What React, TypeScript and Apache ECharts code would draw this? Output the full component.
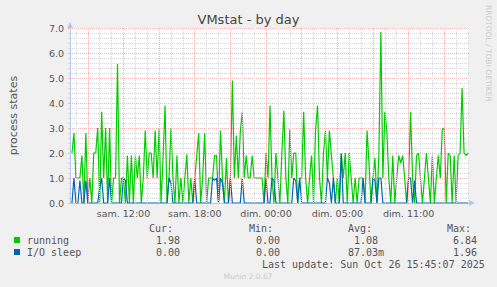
import React, { useEffect, useRef } from "react";
import * as echarts from "echarts";

// ---- data ----
// 10-minute points, starting at Sat 07:40 (hours since Sat 00:00, CEST)
const START_HOUR = 7 + 40 / 60;
const STEP_HOURS = 1 / 6;

const RUNNING = [
  2.0, 2.8, 1.0, 1.0, 1.0, 1.9, 0, 2.8, 0, 1.0,
  0, 2.0, 2.0, 3.0, 0, 3.65, 1.0, 3.0, 0, 3.0,
  0, 1.0, 1.0, 5.56, 0, 1.0, 1.0, 0, 1.9, 0,
  1.9, 0, 1.9, 1.0, 1.9, 0, 1.0, 2.9, 1.0, 2.0,
  2.0, 1.0, 2.9, 1.0, 2.95, 0, 1.8, 3.9, 0, 1.0,
  3.0, 1.0, 0, 1.9, 0, 1.0, 0, 1.0, 1.95, 0,
  1.0, 0, 1.0, 1.9, 2.8, 0, 1.0, 2.8, 0, 1.0,
  1.0, 1.0, 1.9, 1.9, 0, 2.9, 1.0, 0, 1.8, 0,
  1.0, 4.9, 1.0, 2.7, 1.0, 2.85, 3.65, 1.0, 1.9, 1.0,
  1.0, 1.9, 1.0, 1.0, 1.0, 1.0, 1.0, 0, 2.0, 1.0,
  3.9, 1.0, 0, 2.0, 1.0, 0, 2.0, 3.7, 1.0, 0,
  2.95, 1.0, 2.0, 2.0, 0, 1.0, 1.0, 3.65, 1.0, 0,
  1.0, 1.9, 0, 2.9, 3.9, 1.0, 0, 2.0, 2.9, 1.0,
  2.9, 1.9, 1.0, 0, 1.0, 0, 2.0, 1.0, 2.0, 0,
  2.0, 1.0, 0, 1.0, 0, 1.0, 1.0, 1.0, 0, 2.9,
  1.6, 0, 1.0, 1.8, 0, 2.0, 6.84, 1.0, 3.65, 2.9,
  1.0, 0, 1.9, 0, 1.0, 1.9, 1.6, 1.9, 1.0, 0,
  1.0, 3.65, 1.0, 0, 1.9, 2.0, 1.0, 0, 1.0, 2.0,
  1.0, 0, 1.9, 0, 1.0, 1.9, 1.0, 2.95, 3.0, 0,
  2.0, 1.9, 0, 1.9, 0, 1.9, 2.0, 4.6, 2.0, 1.9,
  1.98,
];

const IO_SLEEP = [
  0, 1.0, 0, 0, 0.9, 0, 0, 0.9, 0, 0,
  0, 0, 0, 0, 0.6, 1.0, 0, 0, 0, 1.0,
  0, 0, 0, 0, 0, 0, 1.0, 0.9, 0, 0,
  0, 0, 0, 0, 0, 0, 0, 0, 0, 0,
  0, 0, 0, 0, 0, 0, 0, 0, 0, 1.0,
  0.8, 0, 0, 0, 0, 0, 0, 0, 0, 0,
  0, 0, 1.0, 0, 0, 0, 0, 0, 0, 0,
  0, 1.0, 0.9, 1.0, 0, 1.0, 0.8, 0, 0, 0,
  1.0, 0, 0, 0, 0, 0, 1.0, 0, 0, 0,
  0, 0, 0, 0, 0, 0, 0, 0, 1.0, 0,
  0, 1.0, 0.9, 0, 0, 0, 0, 0, 0, 0,
  0, 0, 1.0, 0.9, 0, 1.0, 0, 0, 0, 0,
  0, 0, 0, 0, 0, 0, 0, 0, 0, 1.0,
  0.8, 0, 1.0, 0, 0, 0, 1.96, 0, 0, 0,
  0, 0, 0, 0, 0, 0, 0, 1.0, 0, 0,
  0, 0, 1.0, 0.9, 0, 1.0, 1.0, 0, 0, 0,
  0, 0, 0, 0, 0, 0, 0, 0, 0, 0,
  1.0, 1.0, 0, 0.9, 0, 0, 0, 0, 0, 0,
  0, 0, 0, 0, 0, 0, 0, 0, 0, 0,
  0, 0, 0, 0, 0, 0, 0, 0, 0, 0,
  0,
];

const TICK_HOURS = [12, 18, 24, 30, 36];
const TICK_LABELS = ["sam. 12:00", "sam. 18:00", "dim. 00:00", "dim. 05:00", "dim. 11:00"];
const X_MIN = 7.5;
const X_MAX = 41.0833;

const LEGEND_NAMES = ["running", "I/O sleep"];
const LEGEND_COLORS = ["#00CC00", "#0066B3"];
const CUR = ["1.98", "0.00"];
const MIN = ["0.00", "0.00"];
const AVG = ["1.08", "87.03m"];
const MAX = ["6.84", "1.96"];
const LAST_UPDATE = "Last update: Sun Oct 26 15:45:07 2025";

const MONO = "'DejaVu Sans Mono', monospace";
const SANS = "'DejaVu Sans', sans-serif";
const MAJOR_GRID = "#f0b4b4";
const MINOR_GRID = "#d6d6d6";

export default function App() {
  const ref = useRef<HTMLDivElement>(null);

  useEffect(() => {
    if (!ref.current) return;
    const chart = echarts.init(ref.current, null, { renderer: "svg" });

    const toPairs = (vals: number[]) => vals.map((v, i) => [START_HOUR + i * STEP_HOURS, v]);

    const gridLines: any[] = [];
    for (let h = Math.ceil(X_MIN); h <= Math.floor(X_MAX); h++) {
      const major = h % 3 === 0;
      gridLines.push({
        xAxis: h,
        lineStyle: {
          color: major ? MAJOR_GRID : MINOR_GRID,
          type: [1, 1],
          width: 1,
        },
      });
    }

    const textEl = (x: number, y: number, text: string, extra: any = {}) => ({
      type: "text",
      x,
      y,
      silent: true,
      style: {
        text,
        fill: "#555",
        fontSize: 10,
        fontFamily: MONO,
        align: "left",
        verticalAlign: "middle",
        ...extra,
      },
    });

    const graphics: any[] = [
      {
        type: "text",
        x: 488,
        y: 5,
        rotation: -Math.PI / 2,
        silent: true,
        style: {
          text: "RRDTOOL / TOBI OETIKER",
          fill: "#cccccc",
          fontSize: 7.5,
          fontFamily: SANS,
          align: "left",
          verticalAlign: "middle",
        },
      },
      textEl(149, 228, "Cur:"),
      textEl(249, 228, "Min:"),
      textEl(348, 228, "Avg:"),
      textEl(447, 228, "Max:"),
      textEl(262, 264, LAST_UPDATE),
      textEl(248, 276, "Munin 2.0.67", {
        fill: "#cccccc",
        fontSize: 7.5,
        fontFamily: SANS,
        align: "center",
      }),
    ];
    LEGEND_NAMES.forEach((name, k) => {
      const y = 240 + k * 12;
      graphics.push({
        type: "rect",
        silent: true,
        shape: { x: 14, y: y - 3, width: 6, height: 6 },
        style: { fill: LEGEND_COLORS[k] },
      });
      graphics.push(textEl(27, y, name));
      graphics.push(textEl(156, y, CUR[k]));
      graphics.push(textEl(256, y, MIN[k]));
      graphics.push(textEl(AVG[k].length > 4 ? 348 : 354, y, AVG[k]));
      graphics.push(textEl(453, y, MAX[k]));
    });

    chart.setOption({
      animation: false,
      backgroundColor: "#f0f0f0",
      title: {
        text: "VMstat - by day",
        left: "center",
        top: 13,
        padding: 0,
        textStyle: { color: "#444", fontSize: 13, fontWeight: "normal", fontFamily: SANS },
      },
      grid: {
        left: 66,
        right: 28,
        top: 28,
        bottom: 84,
        show: true,
        backgroundColor: "#ffffff",
        borderWidth: 0,
      },
      xAxis: {
        type: "value",
        min: X_MIN,
        max: X_MAX,
        axisLine: {
          show: true,
          lineStyle: { color: "#b9c3f0", width: 1 },
          symbol: ["none", "triangle"],
          symbolSize: [6, 6],
          symbolOffset: [0, 3],
        },
        axisTick: { show: false },
        splitLine: { show: false },
        axisLabel: {
          customValues: TICK_HOURS,
          formatter: (v: number) => {
            const k = TICK_HOURS.findIndex((h) => Math.abs(h - v) < 1e-6);
            return k >= 0 ? TICK_LABELS[k] : "";
          },
          color: "#555",
          fontSize: 9.5,
          fontFamily: SANS,
          margin: 5,
        },
      },
      yAxis: {
        type: "value",
        min: 0,
        max: 7,
        interval: 1,
        name: "process states",
        nameLocation: "middle",
        nameRotate: 90,
        nameGap: 51,
        nameTextStyle: { color: "#555", fontSize: 11, fontFamily: SANS },
        axisLine: {
          show: true,
          lineStyle: { color: "#b9c3f0", width: 1 },
          symbol: ["none", "triangle"],
          symbolSize: [6, 6],
          symbolOffset: [0, 3],
        },
        axisTick: { show: true, length: 2, lineStyle: { color: MAJOR_GRID } },
        minorTick: { show: true, splitNumber: 5, length: 2, lineStyle: { color: MINOR_GRID } },
        splitLine: { show: true, lineStyle: { color: MAJOR_GRID, type: [1, 1], width: 1 } },
        minorSplitLine: { show: true, lineStyle: { color: MINOR_GRID, type: [1, 1], width: 1 } },
        axisLabel: {
          formatter: (v: number) => v.toFixed(1),
          color: "#555",
          fontSize: 9.5,
          fontFamily: SANS,
          margin: 6,
        },
      },
      series: [
        {
          type: "line",
          data: [],
          z: 1,
          silent: true,
          markLine: {
            silent: true,
            symbol: ["none", "none"],
            label: { show: false },
            animation: false,
            data: gridLines,
          },
        },
        {
          name: LEGEND_NAMES[0],
          type: "line",
          data: toPairs(RUNNING),
          showSymbol: false,
          z: 3,
          lineStyle: { color: LEGEND_COLORS[0], width: 1.2 },
          itemStyle: { color: LEGEND_COLORS[0] },
        },
        {
          name: LEGEND_NAMES[1],
          type: "line",
          data: toPairs(IO_SLEEP),
          showSymbol: false,
          z: 4,
          lineStyle: { color: LEGEND_COLORS[1], width: 1.2 },
          itemStyle: { color: LEGEND_COLORS[1] },
        },
      ],
      graphic: graphics,
    });

    return () => chart.dispose();
  }, []);

  return (
    <div
      ref={ref}
      style={{ position: "absolute", left: 0, top: 0, width: 497, height: 287 }}
    />
  );
}
